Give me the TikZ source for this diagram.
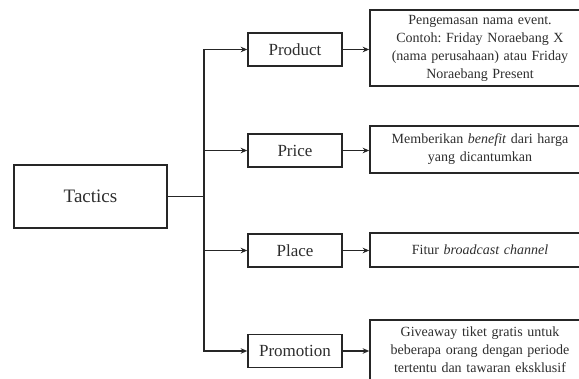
\documentclass[tikz,border=0pt]{standalone}
\usepackage{fontspec}
\setmainfont{Liberation Serif}
\usetikzlibrary{arrows.meta}
\definecolor{linec}{HTML}{262626}
\definecolor{txt}{HTML}{2E2E2E}
\frenchspacing
\begin{document}
\begin{tikzpicture}[x=1pt,y=-1pt,
  box/.style={draw=linec, line width=1.6pt, fill=white, inner sep=0pt, align=center, text=txt},
  midbox/.style={box, minimum width=94pt, minimum height=33pt, font=\fontsize{17}{20}\selectfont},
  rbox/.style={box, minimum width=220pt, text width=218pt, font=\fontsize{14}{18}\selectfont},
  conn/.style={draw=linec, line width=1.6pt},
  arr/.style={conn, -{Stealth[length=6.5pt,width=5.5pt]}}]
\useasboundingbox (0,0) rectangle (579,379);
\clip (0,0) rectangle (579,379);
\fill[white] (0,0) rectangle (579,379);

\node[box, minimum width=153pt, minimum height=63pt, font=\fontsize{19}{22}\selectfont] (tac) at (90.5,196.5) {Tactics};

\node[midbox] (prod) at (295,49.5) {Product};
\node[midbox] (price) at (295,150.5) {Price};
\node[midbox] (place) at (295,250.5) {Place};
\node[midbox] (promo) at (295,351) {Promotion};

\node[rbox, minimum height=76pt] (rprod) at (480,48) {Pengemasan nama event.\\ Contoh: Friday Noraebang X\\ (nama perusahaan) atau Friday\\ Noraebang Present};
\node[rbox, minimum height=47pt] (rprice) at (480,149.5) {Memberikan \textit{benefit} dari harga\\ yang dicantumkan};
\node[rbox, minimum height=34pt] (rplace) at (480,250) {Fitur \textit{broadcast channel}};
\node[rbox, minimum height=100pt] (rpromo) at (480,370) {};
\node[inner sep=0pt, align=center, text=txt, text width=218pt, font=\fontsize{14}{18}\selectfont] (rpromotext) at (480,350) {Giveaway tiket gratis untuk\\ beberapa orang dengan periode\\ tertentu dan tawaran eksklusif};

\coordinate (spine) at (204,196.5);
\draw[conn] (tac.east) -- (spine);
\draw[arr] (spine) |- (prod.west);
\draw[arr] (spine) |- (price.west);
\draw[arr] (spine) |- (place.west);
\draw[arr] (spine) |- (promo.west);

\draw[arr] (prod.east) -- (prod.east -| rprod.west);
\draw[arr] (price.east) -- (price.east -| rprice.west);
\draw[arr] (place.east) -- (place.east -| rplace.west);
\draw[arr] (promo.east) -- (promo.east -| rpromo.west);
\end{tikzpicture}
\end{document}
